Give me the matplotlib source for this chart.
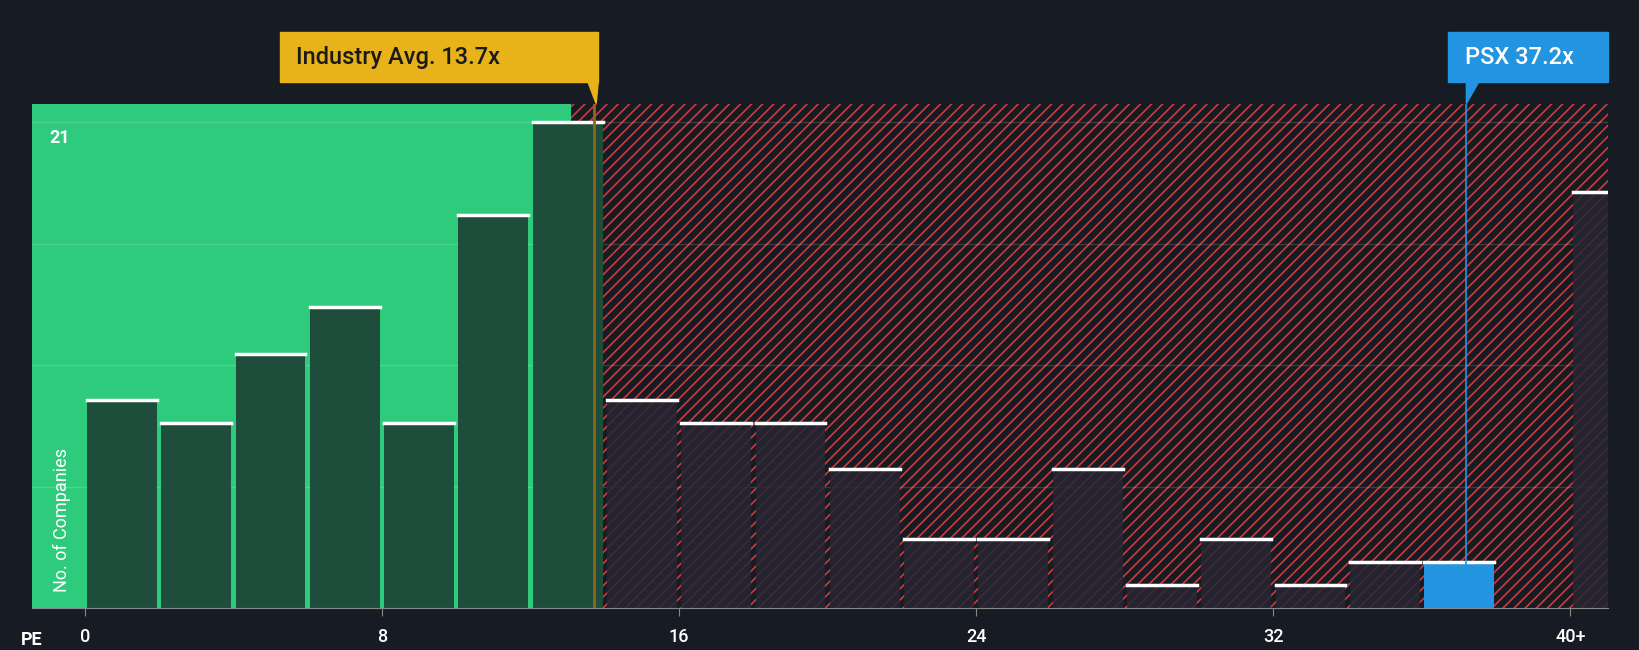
import matplotlib
matplotlib.use("Agg")
import matplotlib.pyplot as plt
from matplotlib.patches import Rectangle, Polygon

plt.rcParams['font.family'] = ['Roboto', 'DejaVu Sans']
plt.rcParams['hatch.linewidth'] = 1.2

bin_left = [0, 2, 4, 6, 8, 10, 12, 14, 16, 18, 20, 22, 24, 26, 28, 30, 32, 34, 36, 38, 40]
counts   = [9, 8, 11, 13, 8, 17, 21, 9, 8, 8, 6, 3, 3, 6, 1, 3, 1, 2, 2, 0, 18]
tick_vals = [0, 8, 16, 24, 32, 40]
tick_labels = ["0", "8", "16", "24", "32", "40+"]
industry_avg = 13.7
psx_pe = 37.2
green_end = 13.1

W, H = 1568, 621
BG = "#161b24"
fig = plt.figure(figsize=(16.4, 6.5), dpi=100, facecolor=BG)
ax = fig.add_axes([31/W, (H-581)/H, 1506/W, 482/H])
ax.set_facecolor(BG)
xmin, xmax = -1.41, 41.0
ymax = 21.8
ax.set_xlim(xmin, xmax); ax.set_ylim(0, ymax)

ax.add_patch(Rectangle((xmin, 0), green_end - xmin, ymax, color="#2fcb7d", zorder=0))
ax.add_patch(Rectangle((green_end, 0), xmax - green_end, ymax, facecolor=BG,
                       edgecolor="#d23a3a", hatch="///", linewidth=0, zorder=0))

for y in [5.25, 10.5, 15.75, 21]:
    ax.axhline(y, color="white", alpha=0.15, lw=1, zorder=1)

for x, c in zip(bin_left, counts):
    w = 1.0 if x == 40 else 1.88
    x0 = x + 0.06
    if c == 0:
        continue
    if x == 36:
        ax.bar(x0, c, width=w, align="edge", color="#2394df", zorder=2)
    elif x < 14:
        ax.bar(x0, c, width=w, align="edge", color="#1f4d3b", zorder=2)
    else:
        ax.bar(x0, c, width=w, align="edge", color="#262633", alpha=0.85, zorder=2)
    ax.plot([x0, x0 + w], [c, c], color="white", lw=2.5, zorder=3)

ax.axvline(industry_avg, color="#8a6a1a", lw=2, zorder=4)
ax.axvline(psx_pe, color="#2394df", lw=1.2, zorder=4)

ax.set_xticks(tick_vals)
ax.set_xticklabels(tick_labels, color="white", fontsize=13, weight="medium")
ax.tick_params(axis="x", colors="#888888", length=6, labelcolor="white", pad=8)
ax.set_yticks([])
for s in ax.spines.values():
    s.set_visible(False)
ax.spines['bottom'].set_visible(True)
ax.spines['bottom'].set_color("#888888")

fig.text(20/W, 1 - 611/H, "PE", color="white", fontsize=13, ha="left", va="center", weight="bold")
ax.text(-0.95, 20.3, "21", color="white", fontsize=13, ha="left", va="center", weight="bold")
ax.text(-0.85, 0.7, "No. of Companies", color="white", fontsize=13, rotation=90, ha="left", va="bottom")

fig.patches.append(Rectangle((268/W, 1 - 78/H), 304/W, 47/H, transform=fig.transFigure,
                             color="#e8b21a", zorder=5))
fig.patches.append(Polygon([[562/W, 1 - 78/H], [572/W, 1 - 78/H], [570/W, 1 - 99/H]],
                           closed=True, transform=fig.transFigure, color="#e8b21a", zorder=5))
fig.text(283/W, 1 - 55/H, "Industry Avg. 13.7x", color="#1a1a1a", fontsize=17, ha="left", va="center",
         weight="medium", zorder=6)
fig.patches.append(Rectangle((1384/W, 1 - 78/H), 153/W, 47/H, transform=fig.transFigure,
                             color="#2394df", zorder=5))
fig.patches.append(Polygon([[1402/W, 1 - 78/H], [1414/W, 1 - 78/H], [1402/W, 1 - 99/H]],
                           closed=True, transform=fig.transFigure, color="#2394df", zorder=5))
fig.text(1401/W, 1 - 55/H, "PSX 37.2x", color="white", fontsize=17, ha="left", va="center",
         weight="medium", zorder=6)

fig.savefig("out.png", dpi=100, facecolor=BG)
